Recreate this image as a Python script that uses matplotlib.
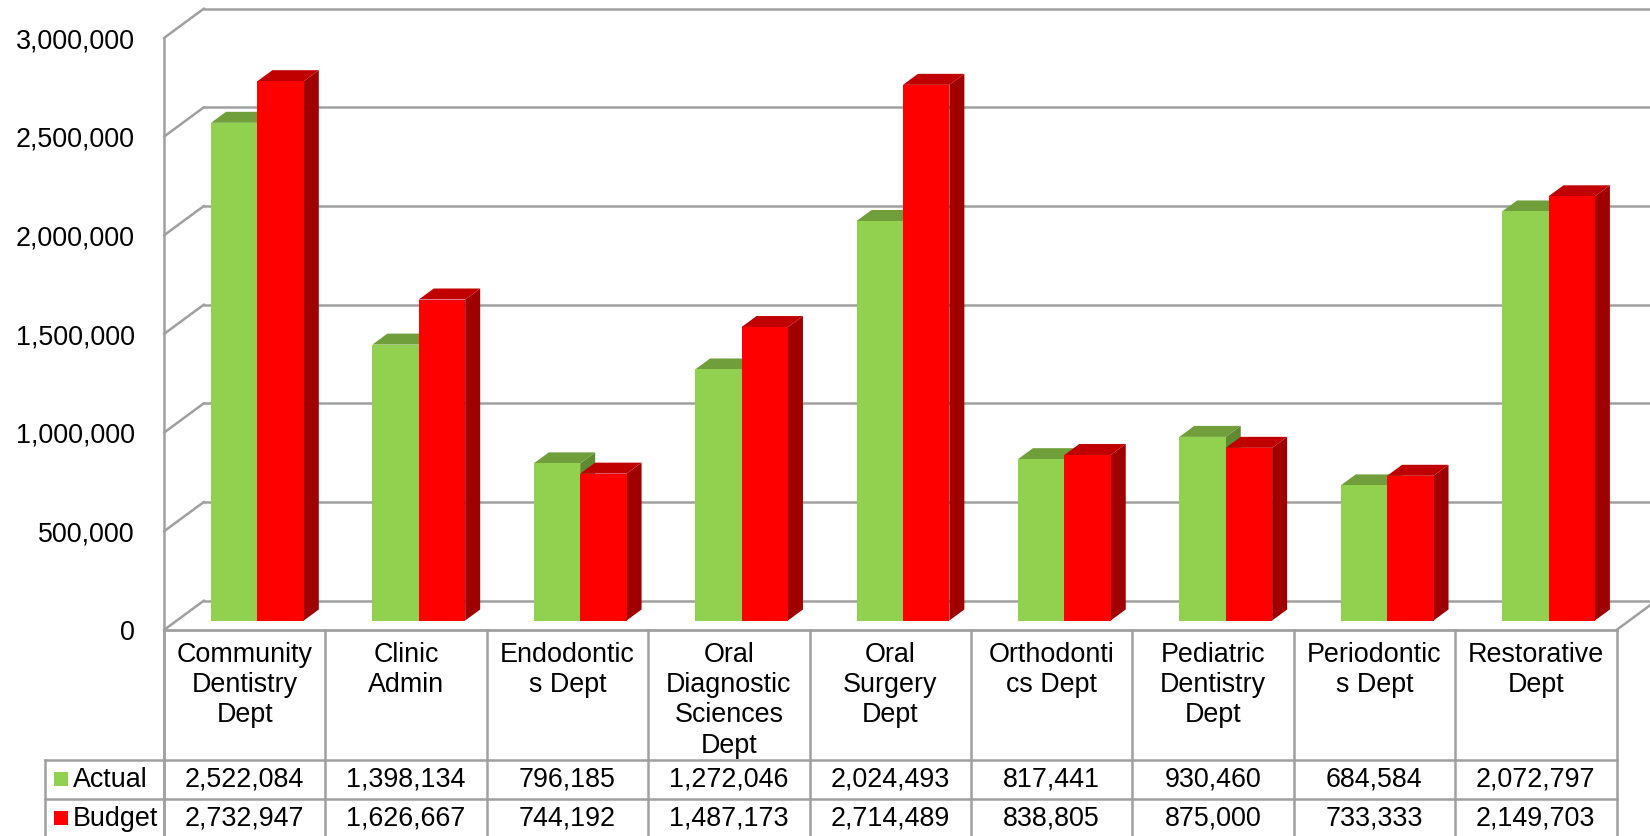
from matplotlib import pyplot as plt
from matplotlib.patches import Polygon, Rectangle
import numpy as np

plt.rcParams['font.family'] = ['Liberation Sans', 'DejaVu Sans']

categories = ['Community\nDentistry\nDept', 'Clinic\nAdmin', 'Endodontic\ns Dept',
              'Oral\nDiagnostic\nSciences\nDept', 'Oral\nSurgery\nDept', 'Orthodonti\ncs Dept',
              'Pediatric\nDentistry\nDept', 'Periodontic\ns Dept', 'Restorative\nDept']
actual = [2522084, 1398134, 796185, 1272046, 2024493, 817441, 930460, 684584, 2072797]
budget = [2732947, 1626667, 744192, 1487173, 2714489, 838805, 875000, 733333, 2149703]
yticks = [0, 500000, 1000000, 1500000, 2000000, 2500000, 3000000]

W, H = 1650, 836
left, right, y0, y3m = 164, 1616.5, 630, 38
grid_c = '#a0a0a0'
green, green_top, green_side = '#92d050', '#6f9e3b', '#5f8a32'
red, red_top, red_side = '#ff0000', '#c00000', '#a00000'
fs = 19.4

fig = plt.figure(figsize=(W/100, H/100), dpi=100)

# pixel axes for the frame and the table
bg = fig.add_axes([0, 0, 1, 1], zorder=1)
bg.set_xlim(0, W)
bg.set_ylim(H, 0)
bg.axis('off')

ax = fig.add_axes([left/W, (H-y0)/H, (right-left)/W, (y0-y3m)/H], zorder=2)
ax.patch.set_alpha(0)
ax.set_xlim(0, len(categories))
ax.set_ylim(0, 3000000)
for s in ax.spines.values():
    s.set_visible(False)
ax.set_xticks([])
ax.set_yticks(yticks)
ax.set_yticklabels(['{:,}'.format(v) for v in yticks], fontsize=fs, color='black')
ax.tick_params(axis='y', length=0, pad=21)

# one pixel in data units
px = len(categories) / (right-left)
py = 3000000 / (y0-y3m)

# back wall lines
dx, dy = 40, 29.5
for v in yticks:
    yp = y0 - v/py
    bg.plot([left, left+dx], [yp, yp-dy], color=grid_c, lw=1.8, solid_capstyle='round')
    bg.plot([left+dx, W], [yp-dy, yp-dy], color=grid_c, lw=1.8)
bg.plot([left, left], [y3m, H], color=grid_c, lw=1.8)
bg.plot([right, W], [y0, y0-dy*(W-right)/dx], color=grid_c, lw=1.8)

# bars
bar_w = 46.4*px
off = 47*px
lift = 9.5*py
depth_x, depth_y = 15*px, 11*py


def bar3d(x, v, front, top, side):
    base = lift
    h = v + lift
    x1 = x + bar_w
    ax.add_patch(Polygon([(x1, base), (x1+depth_x, base+depth_y), (x1+depth_x, h+depth_y), (x1, h)],
                         fc=side, ec='none', clip_on=False))
    ax.add_patch(Polygon([(x, h), (x+depth_x, h+depth_y), (x1+depth_x, h+depth_y), (x1, h)],
                         fc=top, ec='none', clip_on=False))
    ax.bar(x, v, width=bar_w, bottom=base, align='edge', color=front, clip_on=False)


for i in range(len(categories)):
    bar3d(i+off, actual[i], green, green_top, green_side)
    bar3d(i+off+bar_w, budget[i], red, red_top, red_side)

# data table, drawn above the bars' base
tb = fig.add_axes([0, 0, 1, 1], zorder=3)
tb.patch.set_alpha(0)
tb.set_xlim(0, W)
tb.set_ylim(H, 0)
tb.axis('off')

n = len(categories)
cell = (right-left)/n
row1, row2 = 759.5, 798.5
tab_left = 45
tb.plot([left, right], [y0, y0], color=grid_c, lw=2)
tb.plot([tab_left, right], [row1, row1], color=grid_c, lw=1.8)
tb.plot([tab_left, right], [row2, row2], color=grid_c, lw=1.8)
tb.plot([tab_left, tab_left], [row1, H], color=grid_c, lw=1.8)
for i in range(n+1):
    tb.plot([left+i*cell]*2, [y0, H], color=grid_c, lw=1.8)

for i in range(n):
    xc = left + (i+0.5)*cell
    tb.text(xc, 642, categories[i], ha='center', va='top', fontsize=fs, linespacing=1.21)
    tb.text(xc, 780, '{:,}'.format(actual[i]), ha='center', va='center', fontsize=fs)
    tb.text(xc, 818.5, '{:,}'.format(budget[i]), ha='center', va='center', fontsize=fs)

for name, col, yc in [('Actual', green, 779), ('Budget', red, 818)]:
    tb.add_patch(Rectangle((54, yc-7), 14, 14, fc=col, ec='none'))
    tb.text(73, yc+1, name, ha='left', va='center', fontsize=fs)

fig.savefig('out.png', dpi=100)
